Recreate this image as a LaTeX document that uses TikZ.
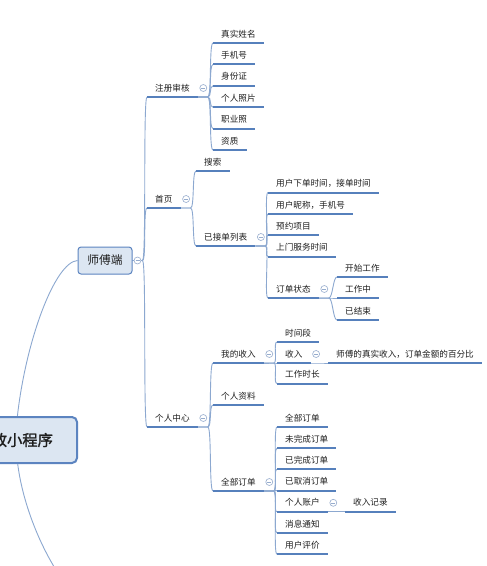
\documentclass[tikz,border=0pt]{standalone}
\usepackage{fontspec}
\newfontfamily\cjk{Noto Sans CJK SC}
\newfontfamily\cjkb[FakeBold=1.5]{Noto Sans CJK SC}
\usetikzlibrary{backgrounds,calc}
\definecolor{ul}{RGB}{86,128,188}
\definecolor{cn}{RGB}{140,168,208}
\definecolor{fc}{RGB}{150,172,205}
\definecolor{bx}{RGB}{220,230,242}
\definecolor{bxd}{RGB}{92,132,192}
\definecolor{txt}{RGB}{30,30,30}
\newcommand\mmlink[2]{\draw[conn] (#1.south east) -- ++(10,0) .. controls +(4,0) and +(-4,0) .. (#2.south west);}
\newcommand\mmfold[1]{\node[fold] (f#1) at ($(#1.south east)+(5.5,-9)$) {};}
\begin{document}
\begin{tikzpicture}[x=1pt,y=-1pt,
  leaf/.style={anchor=south west, inner xsep=8pt, inner ysep=0pt, text height=7.5pt, text depth=5.7pt, font=\cjk\fontsize{8.6}{10}\selectfont, text=txt},
  uline/.style={draw=ul, line width=2pt},
  conn/.style={draw=cn, line width=0.9pt},
  fold/.style={circle, draw=fc, fill=white, line width=0.6pt, minimum size=7pt, inner sep=0pt,
    path picture={\draw[fc,line width=0.6pt] ([xshift=-2pt]path picture bounding box.center) -- ([xshift=2pt]path picture bounding box.center);}},
  rootbox/.style={draw=bxd, fill=bx, line width=2pt, rounded corners=5pt, minimum width=124.6pt, minimum height=46pt, inner sep=0pt, font=\cjkb\fontsize{15.3}{17}\selectfont, text=txt},
  midbox/.style={draw=bxd, fill=bx, line width=1pt, rounded corners=3pt, minimum width=54pt, minimum height=27pt, inner sep=0pt, font=\cjk\fontsize{11.7}{14}\selectfont, text=txt},
]
\useasboundingbox (0,0) rectangle (487,566);
\begin{pgfonlayer}{background}
\fill[white] (0,0) rectangle (487,566);
\end{pgfonlayer}

% nodes
\node[rootbox] (root) at (14.7,440) {家政小程序};
\node[midbox] (sf) at (105,260.5) {师傅端};
\coordinate (offb) at (100,610);

\node[leaf] (zc) at (147,97) {注册审核};
\node[leaf] (sy) at (147,208) {首页};
\node[leaf] (gr) at (147,427) {个人中心};

\node[leaf] (xm) at (213,43) {真实姓名};
\node[leaf] (sj) at (213,64.4) {手机号};
\node[leaf] (sfz) at (213,85.8) {身份证};
\node[leaf] (zp) at (213,107.2) {个人照片};
\node[leaf] (zyz) at (213,128.6) {职业照};
\node[leaf] (zz) at (213,150) {资质};

\node[leaf] (ss) at (196,171) {搜索};
\node[leaf] (yj) at (196,246) {已接单列表};

\node[leaf] (a1) at (268,192.5) {用户下单时间，接单时间};
\node[leaf] (a2) at (268,214) {用户昵称，手机号};
\node[leaf] (a3) at (268,235) {预约项目};
\node[leaf] (a4) at (268,256.5) {上门服务时间};
\node[leaf] (dd) at (268,298) {订单状态};

\node[leaf] (b1) at (337,277) {开始工作};
\node[leaf] (b2) at (337,298) {工作中};
\node[leaf] (b3) at (337,320) {已结束};

\node[leaf] (wd) at (213,363) {我的收入};
\node[leaf] (zl) at (213,405) {个人资料};
\node[leaf] (qb) at (213,491) {全部订单};

\node[leaf] (c1) at (277,342) {时间段};
\node[leaf] (sr) at (277,363) {收入};
\node[leaf] (c3) at (277,383.5) {工作时长};
\node[leaf] (c2) at (328,363) {师傅的真实收入，订单金额的百分比};

\node[leaf] (d1) at (277,427) {全部订单};
\node[leaf] (d2) at (277,448.2) {未完成订单};
\node[leaf] (d3) at (277,469.4) {已完成订单};
\node[leaf] (d4) at (277,490.6) {已取消订单};
\node[leaf] (zh) at (277,511.8) {个人账户};
\node[leaf] (d6) at (277,533) {消息通知};
\node[leaf] (d7) at (277,554.2) {用户评价};
\node[leaf] (e1) at (345,511.8) {收入记录};

% underlines
\foreach \n in {zc,sy,gr,xm,sj,sfz,zp,zyz,zz,ss,yj,a1,a2,a3,a4,dd,b1,b2,b3,wd,zl,qb,c1,sr,c3,c2,d1,d2,d3,d4,zh,d6,d7,e1}
  \draw[uline] (\n.south west) -- (\n.south east);

% connectors
\begin{pgfonlayer}{background}
\draw[conn] (root) .. controls (26,340) and (55,262) .. (sf.west);
\draw[conn] (root) .. controls (26,530) and (70,608) .. (offb);
\foreach \c in {zc,sy,gr}
  \draw[conn] (sf.east) -- ++(10,0) .. controls +(4,0) and +(-4,0) .. (\c.south west);
\foreach \c in {xm,sj,sfz,zp,zyz,zz} {\mmlink{zc}{\c}}
\foreach \c in {ss,yj} {\mmlink{sy}{\c}}
\foreach \c in {a1,a2,a3,a4,dd} {\mmlink{yj}{\c}}
\foreach \c in {b1,b2,b3} {\mmlink{dd}{\c}}
\foreach \c in {wd,zl,qb} {\mmlink{gr}{\c}}
\foreach \c in {c1,sr,c3} {\mmlink{wd}{\c}}
\mmlink{sr}{c2}
\foreach \c in {d1,d2,d3,d4,zh,d6,d7} {\mmlink{qb}{\c}}
\mmlink{zh}{e1}
\end{pgfonlayer}

% fold markers
\node[fold] (fsf) at ($(sf.east)+(5,0)$) {};
\foreach \n in {zc,sy,gr,yj,dd,wd,sr,qb,zh} {\mmfold{\n}}
\end{tikzpicture}
\end{document}
